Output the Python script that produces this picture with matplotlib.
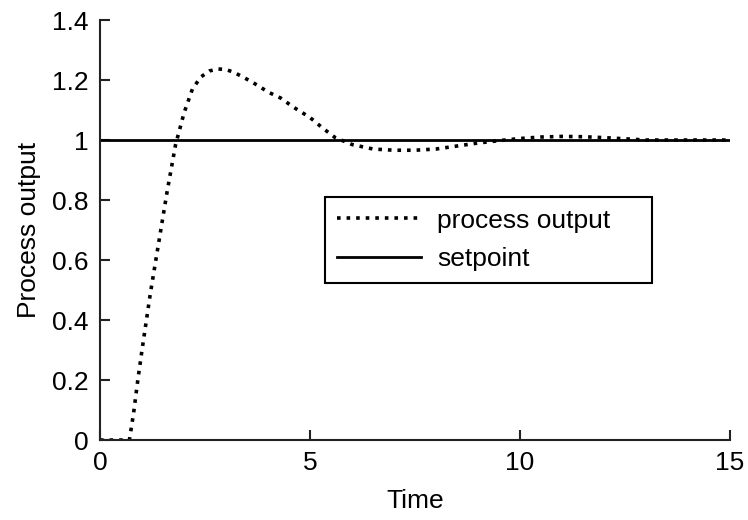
import numpy as np
import matplotlib
matplotlib.use("Agg")
import matplotlib.pyplot as plt

# ── Data ───────────────────────────────────────────────────────────────────
time = [0, 0.5, 0.7, 0.8, 0.9, 1.0, 1.2, 1.4, 1.6, 1.8, 2.0, 2.2, 2.4, 2.6,
        2.8, 3.0, 3.2, 3.4, 3.6, 3.8, 4.0, 4.3, 4.6, 5.0, 5.3, 5.6, 6.0, 6.5,
        7.0, 7.5, 8.0, 8.5, 9.0, 9.5, 10.0, 10.5, 11.0, 11.5, 12.0, 12.5,
        13.0, 14.0, 15.0]
process_output = [0, 0, 0, 0.09, 0.2, 0.3, 0.49, 0.66, 0.83, 0.985, 1.09,
                  1.17, 1.21, 1.23, 1.237, 1.235, 1.225, 1.21, 1.195, 1.178,
                  1.16, 1.14, 1.11, 1.075, 1.04, 1.008, 0.985, 0.97, 0.966,
                  0.966, 0.97, 0.98, 0.99, 0.998, 1.005, 1.01, 1.012, 1.011,
                  1.008, 1.004, 1.0, 1.0, 1.0]
setpoint_t = [0, 15]
setpoint = [1, 1]

xticks = [0, 5, 10, 15]
yticks = [0, 0.2, 0.4, 0.6, 0.8, 1.0, 1.2, 1.4]
ytick_labels = ["0", "0.2", "0.4", "0.6", "0.8", "1", "1.2", "1.4"]

plt.rcParams["font.family"] = ["Liberation Sans", "DejaVu Sans"]
FS = 19

fig = plt.figure(figsize=(7.48, 5.2), dpi=100)
ax = fig.add_axes([0.1337, 0.1538, 0.8423, 0.8077])

ax.plot(time, process_output, color="black", linestyle=":", linewidth=2.6,
        label="process output")
ax.plot(setpoint_t, setpoint, color="black", linewidth=2.0, label="setpoint")

ax.set_xlim(0, 15)
ax.set_ylim(0, 1.4)
ax.set_xticks(xticks)
ax.set_xticklabels([str(x) for x in xticks])
ax.set_yticks(yticks)
ax.set_yticklabels(ytick_labels)

for side in ["top", "right"]:
    ax.spines[side].set_visible(False)
for side in ["left", "bottom"]:
    ax.spines[side].set_linewidth(1.5)
    ax.spines[side].set_color("#222222")

ax.tick_params(direction="in", length=7, width=1.5, color="#222222",
               labelsize=FS)
ax.tick_params(axis="x", pad=8)
ax.tick_params(axis="y", pad=8)
ax.set_xlabel("Time", fontsize=FS, labelpad=10)
ax.set_ylabel("Process output", fontsize=FS, labelpad=8)

leg = ax.legend(loc="upper left", bbox_to_anchor=(0.357, 0.374, 0.519, 0.205),
                mode="expand", fontsize=FS, frameon=True, fancybox=False,
                framealpha=1, edgecolor="black", handlelength=3.2,
                handletextpad=0.6, labelspacing=0.55, borderpad=0.45,
                borderaxespad=0)
leg.get_frame().set_linewidth(1.5)

fig.savefig("out.png", dpi=100)
